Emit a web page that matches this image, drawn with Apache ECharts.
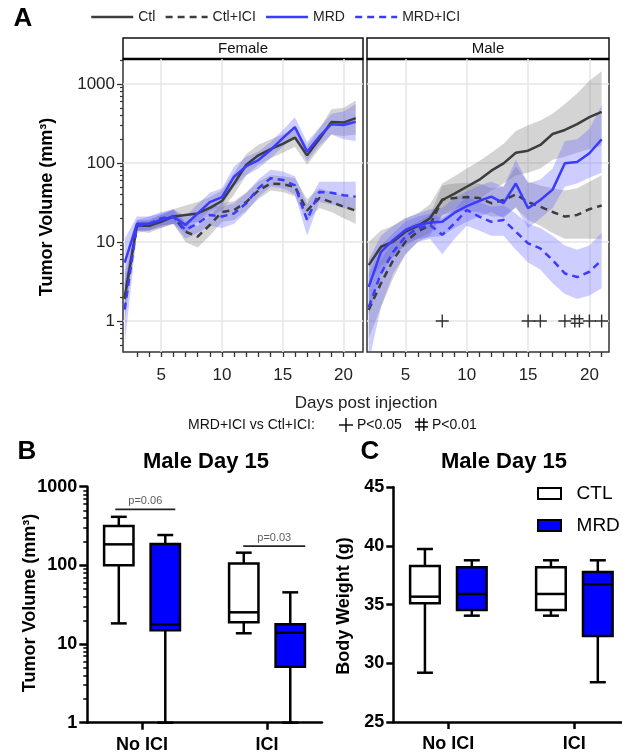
<!DOCTYPE html>
<html>
<head>
<meta charset="utf-8">
<title>Tumor volume</title>
<script src="https://cdn.jsdelivr.net/npm/echarts@6.0.0/dist/echarts.min.js"></script>
<style>
  html, body { margin: 0; padding: 0; background: #fff; }
  #main { width: 622px; height: 753px; }
</style>
</head>
<body>
<div id="main"></div>
<script>
// ---- data ----
const days = [2, 3, 4, 5, 6, 7, 8, 9, 10, 11, 12, 13, 14, 15, 16, 17, 18, 19, 20, 21];
const groupNames = ['Ctl', 'Ctl+ICI', 'MRD', 'MRD+ICI'];

// Female, mean and ribbon
const femCtl    = [2, 16, 16, 18, 21, 22, 23, 27, 33, 55, 95, 125, 150, 175, 210, 125, 200, 330, 325, 370];
const femCtlLo  = [1.3, 14, 14, 15, 17, 17, 18, 21, 25, 40, 70, 95, 115, 135, 160, 95, 150, 230, 220, 230];
const femCtlHi  = [3, 19, 19, 22, 26, 29, 32, 37, 45, 75, 130, 170, 200, 230, 280, 165, 270, 480, 500, 620];
const femCtlIci   = [1.9, 16, 16, 19, 21, 13.5, 11.7, 16.4, 24, 25.4, 32, 45, 55, 54, 50, 25, 36, 32, 28, 25];
const femCtlIciLo = [1, 14, 13, 15, 17, 10, 8.5, 12, 18, 19, 25, 35, 45, 43, 38, 18, 27, 24, 20, 17];
const femCtlIciHi = [3, 18, 19, 22, 25, 17, 16, 21, 31, 33, 42, 58, 70, 68, 64, 35, 48, 43, 38, 36];
const femMrd    = [5.5, 17, 17, 19, 21, 16.4, 23, 32, 37, 67, 91, 109, 146, 206, 285, 139, 215, 310, 303, 333];
const femMrdLo  = [2.5, 14, 14, 16, 17, 13, 18, 25, 29, 50, 70, 85, 115, 160, 220, 105, 165, 230, 200, 190];
const femMrdHi  = [11, 21, 21, 23, 26, 21, 30, 42, 48, 90, 120, 140, 185, 260, 380, 185, 280, 420, 450, 560];
const femMrdIci   = [1.4, 16, 17, 20, 21, 14.2, 17.2, 22, 21, 23, 31, 48, 64, 61, 52, 19, 43, 42, 39, 37.5];
const femMrdIciLo = [0.5, 13, 14, 16, 17, 11, 13, 16, 15, 17, 24, 37, 50, 48, 40, 12, 32, 30, 27, 25];
const femMrdIciHi = [4, 19, 21, 24, 26, 18, 23, 29, 28, 31, 42, 62, 82, 78, 68, 30, 58, 58, 58, 58];

// Male, mean and ribbon
const maleCtl    = [5.1, 8.7, 10.1, 13.5, 15.9, 20, 34, 41, 50, 61, 80, 99, 135, 143, 169, 233, 262, 310, 380, 445];
const maleCtlLo  = [3, 5, 6.5, 9, 11, 13, 22, 26, 30, 35, 45, 55, 70, 75, 85, 110, 120, 135, 150, 165];
const maleCtlHi  = [10, 14, 16, 20, 23, 30, 55, 68, 85, 105, 135, 175, 255, 300, 345, 420, 560, 760, 1100, 1450];
const maleCtlIci   = [1.38, 3, 5.9, 10.1, 13.5, 16.4, 34.5, 36, 37, 36, 31, 34, 40, 32, 28, 24, 21, 22, 26, 29];
const maleCtlIciLo = [0.6, 1.5, 3.5, 7, 10, 12, 22, 24, 25, 24, 21, 21, 27, 19, 16, 13, 11, 11, 11, 11];
const maleCtlIciHi = [3, 6, 10, 15, 18, 22, 52, 55, 56, 55, 48, 50, 90, 58, 52, 48, 45, 48, 58, 70];
const maleMrd    = [2.7, 7.5, 10.6, 14.2, 16.4, 17.6, 18, 23.5, 28.5, 33, 37.5, 31, 55, 26.7, 34, 46, 99, 103, 133, 199];
const maleMrdLo  = [1.2, 4, 6.5, 9.5, 11, 11.5, 12, 15, 18, 21, 24, 20, 28, 15, 20, 27, 50, 55, 65, 75];
const maleMrdHi  = [6, 12, 16, 20, 23, 26, 27, 36, 44, 52, 58, 50, 110, 55, 62, 85, 190, 200, 270, 540];
const maleMrdIci   = [1.5, 4, 7.5, 11.7, 15, 16.4, 12.3, 17.2, 25.4, 21, 18, 19, 13.5, 9.6, 8.3, 5.9, 4, 3.6, 4.2, 5.9];
const maleMrdIciLo = [0.3, 1.5, 4, 7, 10, 11, 7, 11, 16, 14, 12, 12, 8, 5.5, 4.5, 3, 2.2, 1.9, 2.1, 2.6];
const maleMrdIciHi = [4, 9, 13, 18, 21, 23, 20, 26, 38, 32, 28, 29, 23, 17, 15, 12, 9, 8, 9, 13];

// MRD+ICI vs Ctl+ICI significance (male)
const sigP05 = [8, 15, 16, 18, 20, 21];
const sigP01 = [19];

// ticks
const dayTicks = [3, 4, 5, 6, 7, 8, 9, 10, 11, 12, 13, 14, 15, 16, 17, 18, 19, 20, 21];
const dayLabels = [5, 10, 15, 20];
const decadesA = [1, 10, 100, 1000];
const minorA = [0.5, 0.6, 0.7, 0.8, 0.9, 2, 3, 4, 5, 6, 7, 8, 9, 20, 30, 40, 50, 60, 70, 80, 90,
                200, 300, 400, 500, 600, 700, 800, 900, 2000];
const minorB = [2, 3, 4, 5, 6, 7, 8, 9, 20, 30, 40, 50, 60, 70, 80, 90, 200, 300, 400, 500, 600, 700, 800, 900];

// B/C: male day 15 box stats [min, q1, median, q3, max]
const catNames = ['No ICI', 'ICI'];
const catPos = [1, 2];
const volCtl = [[18.3, 100, 185, 316, 414], [13.7, 18.9, 25.3, 106, 145]];
const volMrd = [[1, 15, 17.8, 187, 243], [1, 5.15, 13.9, 17.8, 45.4]];
const bwCtl = [[29.2, 35.12, 35.68, 38.3, 39.74], [34.06, 34.55, 35.91, 38.19, 38.78]];
const bwMrd = [[34.06, 34.55, 35.91, 38.19, 38.78], [28.39, 32.33, 36.74, 37.79, 38.78]];
const brackets = [
    {x1: 0.786, x2: 1.266, y: 515, text: 'p=0.06'},
    {x1: 1.81, x2: 2.306, y: 176, text: 'p=0.03'}
];

// ---- styling ----
const FONT = 'Liberation Sans, Arial, sans-serif';
const GREY = '#3d3d3d', BLUE = '#3b3bff';
const GREY_BAND = 'rgba(120,120,120,0.32)', BLUE_BAND = 'rgba(90,90,255,0.3)';
const groupStyle = [
    {color: GREY, type: 'solid', band: GREY_BAND},
    {color: GREY, type: [7, 5], band: GREY_BAND},
    {color: BLUE, type: 'solid', band: BLUE_BAND},
    {color: BLUE, type: [7, 5], band: BLUE_BAND}
];
const boxOffset = 0.186;
const boxW = 0.235;
const plusPath = 'path://M5.8,0h1.4v13h-1.4z M0,5.8h13v1.4h-13z';
const hashPath = 'path://M3.5,0h1.4v13h-1.4z M8.1,0h1.4v13h-1.4z M0,3.5h13v1.4h-13z M0,8.1h13v1.4h-13z';

const chart = echarts.init(document.getElementById('main'));

function ribbon(xi, yi, lo, hi, color) {
    return {
        type: 'custom', xAxisIndex: xi, yAxisIndex: yi, clip: true, silent: true, z: 2,
        data: days.map((d, i) => [d, lo[i], hi[i]]),
        renderItem: function (params, api) {
            if (params.dataIndex !== 0) return null;
            const top = days.map((d, i) => api.coord([d, hi[i]]));
            const bottom = days.map((d, i) => api.coord([d, lo[i]])).reverse();
            return {type: 'polygon', shape: {points: top.concat(bottom)}, style: {fill: color}};
        }
    };
}

function meanLine(xi, yi, name, vals, st) {
    return {
        type: 'line', name: name, xAxisIndex: xi, yAxisIndex: yi, z: 3,
        symbol: 'none', color: st.color,
        lineStyle: {color: st.color, width: 2.5, type: st.type},
        data: days.map((d, i) => [d, vals[i]])
    };
}

function boxes(name, xi, yi, stats, offset, fill) {
    return {
        type: 'custom', name: name, xAxisIndex: xi, yAxisIndex: yi, z: 3,
        itemStyle: {color: fill, borderColor: '#000', borderWidth: 2},
        data: stats.map((s, i) => [catPos[i] + offset].concat(s)),
        encode: {x: 0, y: [1, 2, 3, 4, 5]},
        renderItem: function (params, api) {
            const x = api.value(0);
            const yOf = v => api.coord([x, v])[1];
            const left = api.coord([x - boxW / 2, api.value(3)])[0];
            const right = api.coord([x + boxW / 2, api.value(3)])[0];
            const cx = (left + right) / 2, cap = (right - left) * 0.27;
            const lo = yOf(api.value(1)), q1 = yOf(api.value(2)), med = yOf(api.value(3));
            const q3 = yOf(api.value(4)), hi = yOf(api.value(5));
            const st = {stroke: '#000', lineWidth: 2.5};
            return {
                type: 'group', children: [
                    {type: 'line', shape: {x1: cx, y1: hi, x2: cx, y2: q3}, style: st},
                    {type: 'line', shape: {x1: cx, y1: q1, x2: cx, y2: lo}, style: st},
                    {type: 'line', shape: {x1: cx - cap, y1: hi, x2: cx + cap, y2: hi}, style: st},
                    {type: 'line', shape: {x1: cx - cap, y1: lo, x2: cx + cap, y2: lo}, style: st},
                    {type: 'rect', shape: {x: left, y: q3, width: right - left, height: q1 - q3},
                        style: {fill: fill, stroke: '#000', lineWidth: 2.5}},
                    {type: 'line', shape: {x1: left, y1: med, x2: right, y2: med}, style: st}
                ]
            };
        }
    };
}

function gridLines(xi, yi) {
    // light panel grid, drawn under the ribbons
    return {
        type: 'line', xAxisIndex: xi, yAxisIndex: yi, data: [], silent: true,
        markLine: {
            silent: true, symbol: 'none', z: 1, animation: false,
            label: {show: false},
            lineStyle: {color: '#e6e6e6', width: 1.5, type: 'solid'},
            data: dayLabels.map(v => ({xAxis: v})).concat(decadesA.map(v => ({yAxis: v})))
        }
    };
}

function dayAxis(gi) {
    return {
        type: 'value', gridIndex: gi, min: 1.86, max: 21.6,
        axisLine: {show: false},
        axisTick: {show: true, customValues: dayTicks, length: 5, lineStyle: {color: '#333', width: 1.3}},
        axisLabel: {customValues: dayLabels, fontSize: 17, color: '#222', margin: 15, fontFamily: FONT},
        splitLine: {show: false}
    };
}

// small cross / double cross made of bars, for the key under panel A
function keyMark(x, y, size, bars) {
    const t = 1.4;
    return {
        type: 'group', x: x, y: y,
        children: bars.map(b => b.v
            ? {type: 'rect', shape: {x: b.at * size - t / 2, y: 0, width: t, height: size}, style: {fill: '#000'}}
            : {type: 'rect', shape: {x: 0, y: b.at * size - t / 2, width: size, height: t}, style: {fill: '#000'}})
    };
}

const femaleSets = [[femCtl, femCtlLo, femCtlHi], [femCtlIci, femCtlIciLo, femCtlIciHi],
                    [femMrd, femMrdLo, femMrdHi], [femMrdIci, femMrdIciLo, femMrdIciHi]];
const maleSets = [[maleCtl, maleCtlLo, maleCtlHi], [maleCtlIci, maleCtlIciLo, maleCtlIciHi],
                  [maleMrd, maleMrdLo, maleMrdHi], [maleMrdIci, maleMrdIciLo, maleMrdIciHi]];

const series = [gridLines(0, 0), gridLines(1, 2)];
[[0, 0, femaleSets], [1, 2, maleSets]].forEach(([xi, yi, sets]) => {
    sets.forEach((s, k) => series.push(ribbon(xi, yi, s[1], s[2], groupStyle[k].band)));
    sets.forEach((s, k) => series.push(meanLine(xi, yi, groupNames[k], s[0], groupStyle[k])));
});
series.push({
    type: 'scatter', xAxisIndex: 1, yAxisIndex: 2, z: 5, symbol: plusPath, symbolSize: 13,
    itemStyle: {color: '#000'}, data: sigP05.map(d => [d, 1])
});
series.push({
    type: 'scatter', xAxisIndex: 1, yAxisIndex: 2, z: 5, symbol: hashPath, symbolSize: 13,
    itemStyle: {color: '#000'}, data: sigP01.map(d => [d, 1])
});

// B and C boxes
series.push(boxes('CTL', 2, 3, volCtl, -boxOffset, '#fff'));
series.push(boxes('MRD', 2, 3, volMrd, boxOffset, '#0000ff'));
series.push(boxes('CTL', 3, 5, bwCtl, -boxOffset, '#fff'));
series.push(boxes('MRD', 3, 5, bwMrd, boxOffset, '#0000ff'));
brackets.forEach(b => {
    series.push({
        type: 'line', xAxisIndex: 2, yAxisIndex: 3, symbol: 'none', silent: true, z: 4,
        lineStyle: {color: '#222', width: 1.8},
        data: [[b.x1, b.y], [b.x2, b.y]]
    });
    series.push({
        type: 'scatter', xAxisIndex: 2, yAxisIndex: 3, symbolSize: 0, silent: true, z: 4,
        label: {show: true, position: 'top', distance: 3, formatter: b.text, fontSize: 11, color: '#333', fontFamily: FONT},
        data: [[(b.x1 + b.x2) / 2, b.y]]
    });
});

const axisBlack = {color: '#000', width: 2.5};
const boldLabel = {fontSize: 18, fontWeight: 'bold', color: '#000', fontFamily: FONT};

chart.setOption({
    animation: false,
    textStyle: {fontFamily: FONT},
    grid: [
        {left: 123, top: 59, width: 240, height: 293, show: true, borderColor: '#333', borderWidth: 1.5, outerBoundsMode: 'none'},
        {left: 367, top: 59, width: 242, height: 293, show: true, borderColor: '#333', borderWidth: 1.5, outerBoundsMode: 'none'},
        {left: 87.3, top: 486.7, width: 234.7, height: 236, outerBoundsMode: 'none'},
        {left: 393.3, top: 487.3, width: 228.7, height: 234.7, outerBoundsMode: 'none'}
    ],
    legend: [{
        data: groupNames, left: 85, top: 5, itemWidth: 42, itemHeight: 14, itemGap: 9,
        itemStyle: {opacity: 0}, lineStyle: {width: 2.5},
        selectedMode: false, textStyle: {fontSize: 14, color: '#222', fontFamily: FONT}
    }, {
        data: [
            {name: 'CTL', itemStyle: {color: '#fff', borderColor: '#000', borderWidth: 2}},
            {name: 'MRD', itemStyle: {color: '#0000ff', borderColor: '#000', borderWidth: 2}}
        ],
        formatter: name => '  ' + name,
        orient: 'vertical', left: 532, top: 479, icon: 'rect', itemWidth: 23, itemHeight: 11, itemGap: 13,
        selectedMode: false, textStyle: {fontSize: 19, color: '#000', fontFamily: FONT}
    }],
    xAxis: [
        dayAxis(0),
        dayAxis(1),
        {
            type: 'value', gridIndex: 2, min: 0.562, max: 2.44,
            axisLine: {show: true, onZero: false, lineStyle: axisBlack},
            axisTick: {customValues: catPos, length: 7, lineStyle: axisBlack},
            axisLabel: Object.assign({customValues: catPos, margin: 13, formatter: v => catNames[Math.round(v) - 1]}, boldLabel),
            splitLine: {show: false}
        },
        {
            type: 'value', gridIndex: 3, min: 0.563, max: 2.378,
            axisLine: {show: true, onZero: false, lineStyle: axisBlack},
            axisTick: {customValues: catPos, length: 7, lineStyle: axisBlack},
            axisLabel: Object.assign({customValues: catPos, margin: 13, formatter: v => catNames[Math.round(v) - 1]}, boldLabel),
            splitLine: {show: false}
        }
    ],
    yAxis: [
        {
            type: 'log', logBase: 10, gridIndex: 0, position: 'left', min: 0.405, max: 2072,
            axisLine: {show: false},
            axisTick: {customValues: decadesA, length: 6, lineStyle: {color: '#333', width: 1.3}},
            axisLabel: {customValues: decadesA, formatter: v => String(Math.round(v)), fontSize: 17, color: '#222', margin: 8, fontFamily: FONT},
            splitLine: {show: false}
        },
        {
            type: 'log', logBase: 10, gridIndex: 0, position: 'left', min: 0.405, max: 2072,
            axisLine: {show: false},
            axisTick: {customValues: minorA, length: 3, lineStyle: {color: '#333', width: 1.2}},
            axisLabel: {show: false}, splitLine: {show: false}
        },
        {
            type: 'log', logBase: 10, gridIndex: 1, position: 'left', min: 0.405, max: 2072,
            axisLine: {show: false}, axisTick: {show: false}, axisLabel: {show: false}, splitLine: {show: false}
        },
        {
            type: 'log', logBase: 10, gridIndex: 2, position: 'left', min: 1, max: 1000,
            axisLine: {show: true, lineStyle: axisBlack},
            axisTick: {customValues: decadesA, length: 8, lineStyle: axisBlack},
            axisLabel: Object.assign({customValues: decadesA, margin: 10, formatter: v => String(Math.round(v))}, boldLabel),
            splitLine: {show: false}
        },
        {
            type: 'log', logBase: 10, gridIndex: 2, position: 'left', min: 1, max: 1000,
            axisLine: {show: false},
            axisTick: {customValues: minorB, length: 4, lineStyle: {color: '#000', width: 1.5}},
            axisLabel: {show: false}, splitLine: {show: false}
        },
        {
            type: 'value', gridIndex: 3, position: 'left', min: 25, max: 45, interval: 5,
            axisLine: {show: true, lineStyle: axisBlack},
            axisTick: {length: 7, lineStyle: axisBlack},
            axisLabel: Object.assign({margin: 9}, boldLabel),
            splitLine: {show: false}
        }
    ],
    graphic: [
        // panel letters
        {type: 'text', x: 23, y: 19, style: {text: 'A', font: 'bold 26px ' + FONT, fill: '#000', textAlign: 'center', textVerticalAlign: 'middle'}},
        {type: 'text', x: 27, y: 452, style: {text: 'B', font: 'bold 26px ' + FONT, fill: '#000', textAlign: 'center', textVerticalAlign: 'middle'}},
        {type: 'text', x: 370, y: 452, style: {text: 'C', font: 'bold 26px ' + FONT, fill: '#000', textAlign: 'center', textVerticalAlign: 'middle'}},
        // strips
        {type: 'rect', shape: {x: 123, y: 38, width: 240, height: 21}, style: {fill: '#fff', stroke: '#111', lineWidth: 1.5}},
        {type: 'rect', shape: {x: 367, y: 38, width: 242, height: 21}, style: {fill: '#fff', stroke: '#111', lineWidth: 1.5}},
        {type: 'line', shape: {x1: 123, y1: 59, x2: 363, y2: 59}, style: {stroke: '#000', lineWidth: 2.5}},
        {type: 'line', shape: {x1: 367, y1: 59, x2: 609, y2: 59}, style: {stroke: '#000', lineWidth: 2.5}},
        {type: 'text', x: 243, y: 48.5, style: {text: 'Female', font: '15px ' + FONT, fill: '#111', textAlign: 'center', textVerticalAlign: 'middle'}},
        {type: 'text', x: 488, y: 48.5, style: {text: 'Male', font: '15px ' + FONT, fill: '#111', textAlign: 'center', textVerticalAlign: 'middle'}},
        // axis titles
        {type: 'text', x: 47, y: 207, rotation: Math.PI / 2, style: {text: 'Tumor Volume (mm³)', font: 'bold 18px ' + FONT, fill: '#000', textAlign: 'center', textVerticalAlign: 'middle'}},
        {type: 'text', x: 366, y: 403, style: {text: 'Days post injection', font: '17px ' + FONT, fill: '#222', textAlign: 'center', textVerticalAlign: 'middle'}},
        {type: 'text', x: 30, y: 603, rotation: Math.PI / 2, style: {text: 'Tumor Volume (mm³)', font: 'bold 18px ' + FONT, fill: '#000', textAlign: 'center', textVerticalAlign: 'middle'}},
        {type: 'text', x: 344, y: 606, rotation: Math.PI / 2, style: {text: 'Body Weight (g)', font: 'bold 18px ' + FONT, fill: '#000', textAlign: 'center', textVerticalAlign: 'middle'}},
        {type: 'text', x: 206, y: 462, style: {text: 'Male Day 15', font: 'bold 22px ' + FONT, fill: '#000', textAlign: 'center', textVerticalAlign: 'middle'}},
        {type: 'text', x: 504, y: 462, style: {text: 'Male Day 15', font: 'bold 22px ' + FONT, fill: '#000', textAlign: 'center', textVerticalAlign: 'middle'}},
        // significance key
        {type: 'text', x: 188, y: 425, style: {text: 'MRD+ICI vs Ctl+ICI:', font: '14px ' + FONT, fill: '#111', textAlign: 'left', textVerticalAlign: 'middle'}},
        keyMark(339, 418, 14, [{v: true, at: 0.5}, {v: false, at: 0.5}]),
        {type: 'text', x: 357, y: 425, style: {text: 'P<0.05', font: '14px ' + FONT, fill: '#111', textAlign: 'left', textVerticalAlign: 'middle'}},
        keyMark(415, 418, 13, [{v: true, at: 0.32}, {v: true, at: 0.68}, {v: false, at: 0.32}, {v: false, at: 0.68}]),
        {type: 'text', x: 432, y: 425, style: {text: 'P<0.01', font: '14px ' + FONT, fill: '#111', textAlign: 'left', textVerticalAlign: 'middle'}}
    ],
    series: series
});
</script>
</body>
</html>
